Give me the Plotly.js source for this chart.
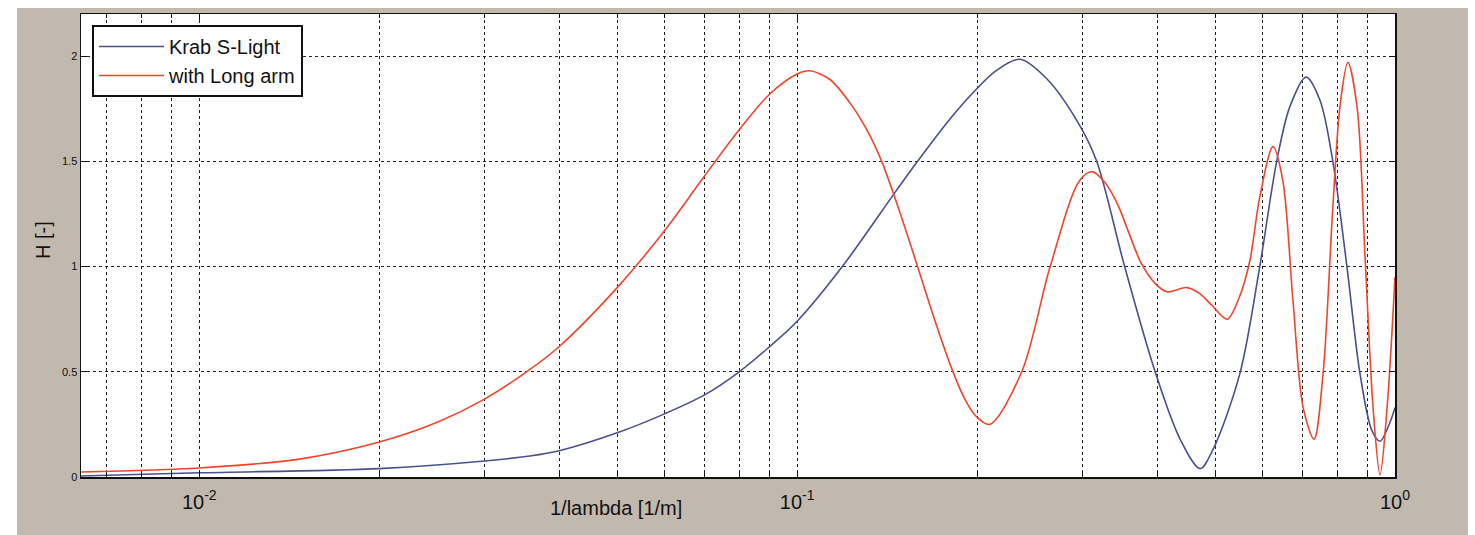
<!DOCTYPE html>
<html>
<head>
<meta charset="utf-8">
<script src="https://cdn.plot.ly/plotly-3.0.1.min.js"></script>
<style>html,body{margin:0;padding:0;background:#fff;}#chart{width:1475px;height:535px;}</style>
</head>
<body>
<div id="chart"></div>
<script>
// Krab S-Light
const krabFreq = [0.00634, 0.01, 0.02, 0.03, 0.0357, 0.04, 0.05, 0.06, 0.07, 0.08, 0.09, 0.1, 0.119, 0.1456, 0.159, 0.18, 0.199, 0.215, 0.236, 0.262, 0.297, 0.317, 0.353, 0.397, 0.437, 0.472, 0.496, 0.55, 0.594, 0.634, 0.667, 0.71, 0.749, 0.787, 0.831, 0.874, 0.915, 0.944, 0.981, 1.0];
const krabH    = [0.005, 0.02, 0.04, 0.076, 0.10, 0.125, 0.21, 0.30, 0.39, 0.50, 0.62, 0.74, 1.0, 1.35, 1.5, 1.70, 1.84, 1.93, 1.985, 1.89, 1.67, 1.5, 1.0, 0.50, 0.18, 0.04, 0.13, 0.49, 1.0, 1.5, 1.76, 1.90, 1.79, 1.5, 1.0, 0.49, 0.22, 0.17, 0.26, 0.33];
// with Long arm
const longFreq = [0.00634, 0.01, 0.0147, 0.02, 0.025, 0.03, 0.0357, 0.04, 0.05, 0.06, 0.07, 0.08, 0.09, 0.1, 0.105, 0.1133, 0.1224, 0.1302, 0.1385, 0.1484, 0.159, 0.1692, 0.18, 0.19, 0.199, 0.21, 0.2375, 0.265, 0.297, 0.312, 0.327, 0.343, 0.3588, 0.3757, 0.397, 0.415, 0.449, 0.472, 0.496, 0.524, 0.55, 0.572, 0.594, 0.625, 0.649, 0.675, 0.702, 0.732, 0.758, 0.787, 0.809, 0.834, 0.864, 0.891, 0.919, 0.944, 0.97, 1.0];
const longH    = [0.024, 0.043, 0.085, 0.166, 0.26, 0.37, 0.51, 0.62, 0.90, 1.17, 1.43, 1.65, 1.82, 1.915, 1.93, 1.89, 1.78, 1.66, 1.50, 1.26, 1.0, 0.76, 0.54, 0.38, 0.29, 0.25, 0.5, 1.0, 1.41, 1.45, 1.40, 1.30, 1.16, 1.02, 0.92, 0.88, 0.90, 0.87, 0.81, 0.75, 0.86, 1.03, 1.33, 1.57, 1.41, 0.84, 0.33, 0.18, 0.49, 1.28, 1.76, 1.97, 1.76, 1.05, 0.33, 0.01, 0.33, 0.95];

const xMajorVals = [0.01, 0.1, 1];
const xMajorText = ['10<sup>-2</sup>', '10<sup>-1</sup>', '10<sup>0</sup>'];
const xMinorVals = [0.007,0.008,0.009,0.02,0.03,0.04,0.05,0.06,0.07,0.08,0.09,0.2,0.3,0.4,0.5,0.6,0.7,0.8,0.9];
const yTickVals = [0, 0.5, 1, 1.5, 2];
const yTickText = ['0', '0.5', '1', '1.5', '2'];

const traces = [
  {x: krabFreq, y: krabH, name: 'Krab S-Light', type: 'scatter', mode: 'lines',
   line: {color: '#4a4f8e', width: 1.6, shape: 'spline', smoothing: 0.9}},
  {x: longFreq, y: longH, name: 'with Long arm', type: 'scatter', mode: 'lines',
   line: {color: '#f0452d', width: 1.6, shape: 'spline', smoothing: 0.9}}
];

const PX = 1314, PY = 463;
const FONT = 'Liberation Sans, Arial, sans-serif';
const layout = {
  width: 1475, height: 535,
  margin: {l: 81, r: 80, t: 14, b: 58, pad: 0},
  paper_bgcolor: '#c1b8ae',
  plot_bgcolor: '#ffffff',
  font: {family: FONT, color: '#111'},
  showlegend: true,
  legend: {x: 11/PX, y: 1 - 11/PY, xanchor: 'left', yanchor: 'top',
           bgcolor: '#ffffff', bordercolor: '#111', borderwidth: 2,
           font: {size: 20, family: FONT, color: '#111'},
           tracegroupgap: 0, itemwidth: 65},
  xaxis: {type: 'log', range: [Math.log10(0.00634), 0], tickmode: 'array',
          tickvals: xMajorVals, ticktext: xMajorText,
          ticks: 'inside', ticklen: 6, tickcolor: '#111', tickwidth: 1,
          showline: true, linecolor: '#111', linewidth: 1.5, mirror: 'ticks',
          showgrid: true, gridcolor: '#222', griddash: 'dot', gridwidth: 1,
          minor: {tickmode: 'array', tickvals: xMinorVals, ticks: 'inside', ticklen: 4,
                  tickcolor: '#111', showgrid: true, gridcolor: '#222', griddash: 'dot', gridwidth: 1},
          zeroline: false, tickfont: {size: 20, color: '#111'}, ticklabelstandoff: 6},
  yaxis: {range: [0, 2.2], tickmode: 'array', tickvals: yTickVals, ticktext: yTickText,
          ticks: 'inside', ticklen: 6, tickcolor: '#111', tickwidth: 1,
          showline: true, linecolor: '#111', linewidth: 1.5, mirror: 'ticks',
          showgrid: true, gridcolor: '#222', griddash: 'dot', gridwidth: 1,
          zeroline: false, tickfont: {size: 11, color: '#111'}},
  annotations: [
    {text: '1/lambda [1/m]', xref: 'paper', yref: 'paper', x: (616-81)/PX, y: -(508-477)/PY,
     xanchor: 'center', yanchor: 'middle', showarrow: false, font: {size: 20, color: '#111'}},
    {text: 'H [-]', xref: 'paper', yref: 'paper', x: (43-81)/PX, y: (477-240)/PY,
     xanchor: 'center', yanchor: 'middle', showarrow: false, textangle: -90, font: {size: 20, color: '#111'}}
  ],
  shapes: [
    {type: 'rect', xref: 'paper', yref: 'paper', x0: -81/PX, x1: (17-81)/PX, y0: -58/PY, y1: 477/PY,
     fillcolor: '#ffffff', line: {width: 0}, layer: 'above'},
    {type: 'rect', xref: 'paper', yref: 'paper', x0: -81/PX, x1: (1475-81)/PX, y0: (477-8)/PY, y1: 477/PY,
     fillcolor: '#ffffff', line: {width: 0}, layer: 'above'},
    {type: 'rect', xref: 'paper', yref: 'paper', x0: (1468-81)/PX, x1: (1475-81)/PX, y0: -58/PY, y1: 477/PY,
     fillcolor: '#ffffff', line: {width: 0}, layer: 'above'}
  ]
};

Plotly.newPlot('chart', traces, layout, {displayModeBar: false, staticPlot: true});
</script>
</body>
</html>
